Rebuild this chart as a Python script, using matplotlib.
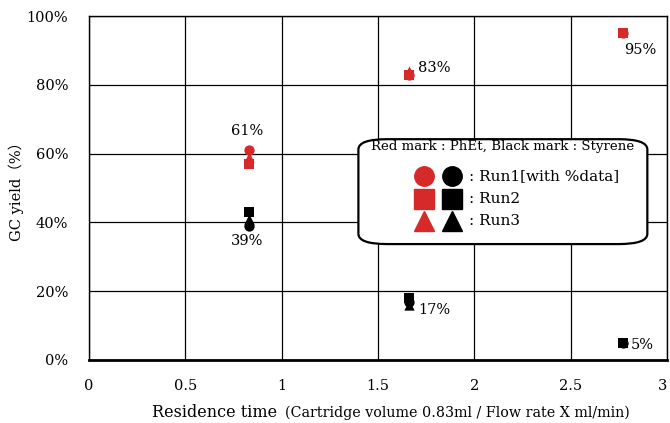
import matplotlib.pyplot as plt
from matplotlib.patches import FancyBboxPatch
from matplotlib.lines import Line2D

plt.rcParams['font.family'] = ['DejaVu Serif']

# residence time = 0.83 ml / flow rate
res_time = [0.83, 1.66, 2.77]

# red = PhEt, black = Styrene (yield %)
phet_run1 = [61, 83, 95]
phet_run2 = [57, 83, 95]
phet_run3 = [59, 84, None]
sty_run1 = [39, 17, 5]
sty_run2 = [43, 18, 5]
sty_run3 = [41, 16, None]

red = '#d62a2a'

fig = plt.figure(figsize=(6.70, 4.23), dpi=100)
ax = fig.add_axes([0.133, 0.149, 0.8625, 0.813])


def pts(xs, ys):
    pairs = [(x, y) for x, y in zip(xs, ys) if y is not None]
    return [p[0] for p in pairs], [p[1] for p in pairs]


for ys, m, c in [(phet_run1, 'o', red), (phet_run3, '^', red), (phet_run2, 's', red),
                 (sty_run1, 'o', 'black'), (sty_run3, '^', 'black'), (sty_run2, 's', 'black')]:
    x, y = pts(res_time, ys)
    ax.scatter(x, y, marker=m, s=55, color=c, zorder=3, linewidths=0)

# percent labels
ax.text(0.82, 66.5, '61%', ha='center', va='center', fontsize=10.5)
ax.text(0.82, 34.5, '39%', ha='center', va='center', fontsize=10.5)
ax.text(1.71, 85, '83%', ha='left', va='center', fontsize=10.5)
ax.text(1.71, 14.5, '17%', ha='left', va='center', fontsize=10.5)
ax.text(2.86, 90, '95%', ha='center', va='center', fontsize=10.5)
ax.text(2.81, 4.3, '5%', ha='left', va='center', fontsize=10.5)

ax.set_xlim(0, 3)
ax.set_ylim(0, 100)
ax.set_xticks([0, 0.5, 1, 1.5, 2, 2.5, 3])
ax.set_xticklabels(['0', '0.5', '1', '1.5', '2', '2.5', '3'], fontsize=10.5)
ax.get_xticklabels()[-1].set_horizontalalignment('right')
ax.set_yticks(range(0, 101, 20))
ax.set_yticklabels([f'{v}%' for v in range(0, 101, 20)], fontsize=10.5)
ax.tick_params(axis='y', length=0, pad=15)
ax.tick_params(axis='x', length=0, pad=14)
ax.grid(True, color='black', linewidth=0.9)
ax.set_axisbelow(True)
for s in ax.spines.values():
    s.set_linewidth(1.0)
ax.spines['bottom'].set_linewidth(2)

ax.set_ylabel('GC yield（%）', fontsize=10.5, family=['DejaVu Serif', 'Noto Sans CJK JP'])
ax.yaxis.set_label_coords(-0.113, 0.5)
fig.text(0.227, 0.015, 'Residence time', fontsize=11.5)
fig.text(0.425, 0.015, '(Cartridge volume 0.83ml / Flow rate X ml/min)', fontsize=10.3)

# legend box
box = FancyBboxPatch((0.466, 0.337), 0.5, 0.305, boxstyle='round,pad=0,rounding_size=0.05',
                     transform=ax.transAxes, facecolor='white', edgecolor='black',
                     linewidth=1.6, zorder=4, mutation_aspect=344 / 578)
ax.add_patch(box)
ax.text(0.716, 0.62, 'Red mark : PhEt, Black mark : Styrene', transform=ax.transAxes,
        ha='center', va='center', fontsize=9.6, zorder=5)
rows = [('o', ': Run1[with %data]', 0.535), ('s', ': Run2', 0.468), ('^', ': Run3', 0.405)]
for m, txt, yy in rows:
    ax.add_line(Line2D([0.58], [yy], marker=m, markersize=14, color=red, linestyle='none',
                       transform=ax.transAxes, zorder=5))
    ax.add_line(Line2D([0.628], [yy], marker=m, markersize=14, color='black', linestyle='none',
                       transform=ax.transAxes, zorder=5))
    ax.text(0.658, yy, txt, transform=ax.transAxes, ha='left', va='center', fontsize=11, zorder=5)

fig.savefig('out.png', dpi=100)
